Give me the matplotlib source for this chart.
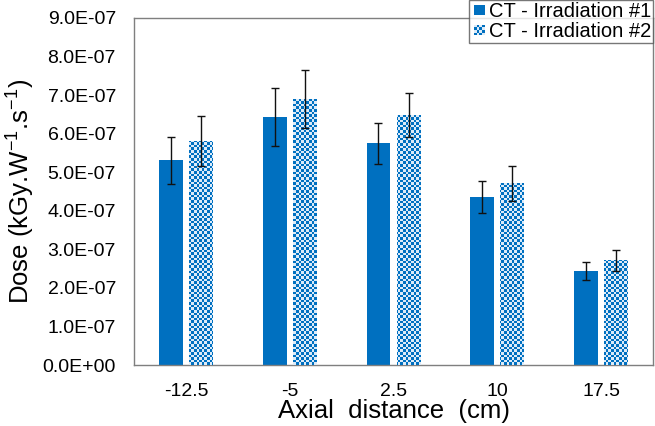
import numpy as np
import matplotlib
matplotlib.use("Agg")
import matplotlib.pyplot as plt
from matplotlib.patches import Rectangle
from matplotlib.legend_handler import HandlerBase

plt.rcParams['font.family'] = ['Liberation Sans', 'DejaVu Sans']
plt.rcParams['mathtext.fontset'] = 'custom'
plt.rcParams['mathtext.rm'] = 'Liberation Sans'
plt.rcParams['mathtext.default'] = 'regular'

categories = ["-12.5", "-5", "2.5", "10", "17.5"]
dose_irr1 = [5.31e-7, 6.43e-7, 5.75e-7, 4.35e-7, 2.44e-7]
err_irr1 = [0.61e-7, 0.75e-7, 0.53e-7, 0.41e-7, 0.24e-7]
dose_irr2 = [5.81e-7, 6.89e-7, 6.48e-7, 4.71e-7, 2.72e-7]
err_irr2 = [0.64e-7, 0.75e-7, 0.58e-7, 0.45e-7, 0.27e-7]
series_labels = ["CT - Irradiation #1", "CT - Irradiation #2"]
yticks = [i * 1e-7 for i in range(10)]
ytick_labels = ["0.0E+00"] + [f"{i}.0E-07" for i in range(1, 10)]

BLUE = "#0070C0"
PALE = "#DDEBF8"

fig = plt.figure(figsize=(6.55, 4.26), dpi=100)
ax = fig.add_axes([0.2046, 0.143, 0.7924, 0.815])

x = np.arange(len(categories))
w = 0.23
off = 0.145

ax.bar(x - off, dose_irr1, width=w, color=BLUE, zorder=2)
bars2 = ax.bar(x + off, dose_irr2, width=w, color=BLUE, zorder=2)

ax.errorbar(x - off, dose_irr1, yerr=err_irr1, fmt='none', ecolor='#111111',
            elinewidth=1.0, capsize=3, capthick=1.0, zorder=4)
ax.errorbar(x + off, dose_irr2, yerr=err_irr2, fmt='none', ecolor='#111111',
            elinewidth=1.0, capsize=3, capthick=1.0, zorder=4)

xlim = (-0.5, len(categories) - 0.5)
ylim = (0, 9e-7)

# checkerboard fill for the second series, clipped to each bar
cell_px = 2.6
nx = int(0.7924 * 655 / cell_px)
ny = int(0.815 * 426 / cell_px)
checker = (np.indices((ny, nx)).sum(axis=0) % 2).astype(float)
cmap = matplotlib.colors.ListedColormap([BLUE, PALE])
for b in bars2:
    im = ax.imshow(checker, cmap=cmap, interpolation='nearest', aspect='auto',
                   extent=(*xlim, *ylim), zorder=3, origin='lower')
    im.set_clip_path(b)

ax.set_xlim(*xlim)
ax.set_ylim(*ylim)

ax.set_xticks(x)
ax.set_xticklabels(categories, fontsize=14)
ax.set_yticks(yticks)
ax.set_yticklabels(ytick_labels, fontsize=14)
ax.tick_params(axis='both', length=0)
ax.tick_params(axis='x', pad=13)
ax.tick_params(axis='y', pad=13)

for s in ax.spines.values():
    s.set_color("#7F7F7F")
    s.set_linewidth(1.0)

ax.set_xlabel("Axial  distance  (cm)", fontsize=18.5, labelpad=-1)
ax.set_ylabel("Dose (kGy.W$^{-1}$.s$^{-1}$)", fontsize=18.5, labelpad=4)


class CheckerHandler(HandlerBase):
    def create_artists(self, legend, orig_handle, xdescent, ydescent,
                       width, height, fontsize, trans):
        size = min(width, height) * 0.75
        x0 = xdescent + width - size
        y0 = -ydescent + (height - size) / 2
        n = 4
        c = size / n
        arts = []
        for i in range(n):
            for j in range(n):
                col = BLUE if (i + j) % 2 == 0 else PALE
                arts.append(Rectangle((x0 + i * c, y0 + j * c), c, c,
                                      facecolor=col, edgecolor='none',
                                      transform=trans))
        return arts


class SolidHandler(HandlerBase):
    def create_artists(self, legend, orig_handle, xdescent, ydescent,
                       width, height, fontsize, trans):
        size = min(width, height) * 0.75
        x0 = xdescent + width - size
        y0 = -ydescent + (height - size) / 2
        return [Rectangle((x0, y0), size, size, facecolor=BLUE,
                          edgecolor='none', transform=trans)]


h1 = Rectangle((0, 0), 1, 1)
h2 = Rectangle((0, 0), 1, 1)
leg = fig.legend([h1, h2], series_labels,
                 handler_map={h1: SolidHandler(), h2: CheckerHandler()},
                 loc='upper right', bbox_to_anchor=(653 / 655, 1.0),
                 fontsize=14.5, frameon=True, fancybox=False,
                 handlelength=0.7, handletextpad=0.2, borderpad=0.1,
                 labelspacing=0.05, borderaxespad=0)
leg.get_frame().set_edgecolor("#555555")
leg.get_frame().set_linewidth(1.0)

fig.savefig("out.png", dpi=100)
